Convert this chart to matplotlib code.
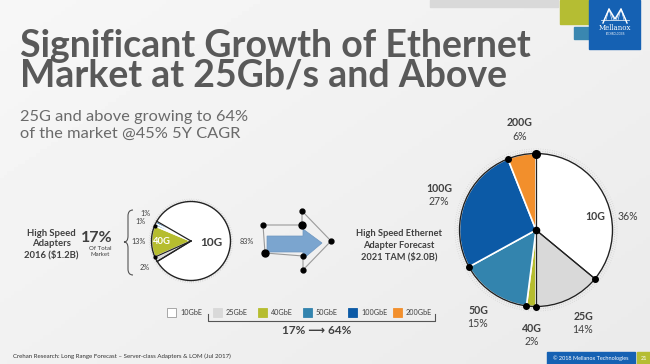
import numpy as np
import matplotlib
matplotlib.use('Agg')
import matplotlib.pyplot as plt
from matplotlib.patches import Rectangle, Polygon, Circle, PathPatch
from matplotlib.path import Path

W, H = 650, 364

# ---------------- data ----------------
categories_2016 = ['10G', '25G', '40G', '50G', '100G']
share_2016 = [83, 2, 13, 1, 1]
categories_2021 = ['10G', '25G', '40G', '50G', '100G', '200G']
share_2021 = [36, 14, 2, 15, 27, 6]
legend_labels = ['10GbE', '25GbE', '40GbE', '50GbE', '100GbE', '200GbE']
share_25g_plus = [17, 64]
tam_2016 = 1.2
tam_2021 = 2.0

# ---------------- styles ----------------
colors = {'10G': '#ffffff', '25G': '#d9d9d9', '40G': '#b6bd2f',
          '50G': '#3384ae', '100G': '#0c5aa6', '200G': '#f28f2c'}
DARK = '#404040'
FONT = 'Lato'

fig = plt.figure(figsize=(6.5, 3.64), dpi=100)

# background axes
ax_bg = fig.add_axes([0, 0, 1, 1])
ax_bg.set_xlim(0, W)
ax_bg.set_ylim(H, 0)
ax_bg.axis('off')
yy, xx = np.mgrid[0:1:100j, 0:1:180j]
g = 0.968 - 0.05 * (0.55 * xx + 0.45 * yy)
ax_bg.imshow(g, cmap='gray', vmin=0, vmax=1, extent=(0, W, H, 0), aspect='auto', zorder=0)

# decorations top right
ax_bg.add_patch(Rectangle((430, 0), 128, 7, color='#d9d9d9', zorder=1))
ax_bg.add_patch(Rectangle((560, 0), 29, 24, color='#b5bd33', zorder=1))
ax_bg.add_patch(Rectangle((574, 27), 15, 12, color='#3a87b0', zorder=1))
ax_bg.add_patch(Rectangle((589, 0), 51, 49, color='#1561b3', zorder=1))
# logo icon
ax_bg.plot([603, 609, 615, 621, 627], [23, 9, 19, 9, 23], color='white', lw=1.0, zorder=2)
for x0 in (609, 621):
    for dx in (-5, -3, 3, 5):
        ax_bg.plot([x0, x0 + dx], [9, 20], color='white', lw=0.4, zorder=2)
ax_bg.plot([601, 629], [20, 20], color='white', lw=0.5, zorder=2)
ax_bg.text(615, 28.5, 'Mellanox', color='white', fontsize=5, family='DejaVu Serif',
           ha='center', va='center', zorder=2)
ax_bg.text(615, 34, 'TECHNOLOGIES', color='white', fontsize=1.8, family='DejaVu Sans',
           ha='center', va='center', zorder=2)
# bottom right
ax_bg.add_patch(Rectangle((547, 352), 88, 12, color='#1561b3', zorder=1))
ax_bg.add_patch(Rectangle((637, 352), 13, 12, color='#b5bd33', zorder=1))


def pie_axes(cx, cy, r, pad=1.2):
    s = r * pad
    ax = fig.add_axes([(cx - s) / W, 1 - (cy + s) / H, 2 * s / W, 2 * s / H])
    ax.set_zorder(2)
    return ax, pad


def draw_pie(ax, pad, values, cats, start):
    wedges, _ = ax.pie(values, colors=[colors[c] for c in cats], startangle=start,
                       counterclock=False, radius=1,
                       wedgeprops=dict(edgecolor='white', linewidth=1.2))
    ax.set_xlim(-pad, pad)
    ax.set_ylim(-pad, pad)
    ax.axis('off')
    for rr, a in ((1.03, 0.45), (1.06, 0.25)):
        ax.add_patch(Circle((0, 0), rr, fill=False, ec='#7a7a7a', lw=0.7,
                            ls=(0, (0.6, 1.8)), alpha=a))
    ax.add_patch(Circle((0, 0), 1.0, fill=False, ec='#222222', lw=1.0, zorder=5))
    # black radial lines on boundaries of first two wedges
    for w in wedges[:2]:
        for th in (w.theta1, w.theta2):
            t = np.deg2rad(th)
            ax.plot([0, np.cos(t)], [0, np.sin(t)], color='#222222', lw=0.9, zorder=6)
    return wedges


# right pie (2021)
ax_r, pad_r = pie_axes(536, 230, 76.5)
wr = draw_pie(ax_r, pad_r, share_2021, categories_2021, 90)
bounds = sorted({round(w.theta1, 3) for w in wr} | {round(w.theta2, 3) for w in wr})
for th in bounds:
    t = np.deg2rad(th)
    big = abs(th - 90) < 1 or abs(th - 262.8) < 1
    ax_r.plot(np.cos(t), np.sin(t), 'o', color='black', ms=5.5 if big else 4, zorder=7)
ax_r.plot(0, 0, 'o', color='black', ms=4.5, zorder=7)

# left pie (2016)
ax_l, pad_l = pie_axes(191, 241, 39.5)
wl = draw_pie(ax_l, pad_l, share_2016, categories_2016, 150)
for w in wl[1:3]:
    t = np.deg2rad(w.theta1)
    ax_l.plot(np.cos(t), np.sin(t), 'o', color='black', ms=2, zorder=7)

# ---------------- top overlay ----------------
ax = fig.add_axes([0, 0, 1, 1])
ax.set_zorder(5)
ax.set_xlim(0, W)
ax.set_ylim(H, 0)
ax.axis('off')
ax.patch.set_visible(False)

# title as one two-line text (anchor = baseline of last line), baseline gap ~30 px
title = ax.text(20, 86.7, 'Significant Growth of Ethernet\nMarket at 25Gb/s and Above',
                fontsize=27, fontweight='bold', family=FONT, color='#595959',
                va='baseline', linespacing=1.0)
renderer = fig.canvas.get_renderer()


def baseline_gap(ls):
    title.set_linespacing(ls)
    _, info, _ = title._get_layout(renderer)
    return abs(info[0][3] - info[1][3])


try:
    g0, g1 = baseline_gap(0.0), baseline_gap(1.0)
    ls = (30.0 - g0) / (g1 - g0) if g1 != g0 else 0.85
    title.set_linespacing(max(0.5, ls))
except Exception:
    title.set_linespacing(0.85)

ax.text(20, 120.7, f'25G and above growing to {share_25g_plus[1]}%', fontsize=11.8,
        family=FONT, color='#6a6a6a', va='baseline')
ax.text(20, 137.5, 'of the market @45% 5Y CAGR', fontsize=11.8,
        family=FONT, color='#6a6a6a', va='baseline')

# left block
for txt, y in zip(['High Speed', 'Adapters', f'2016 (${tam_2016:.1f}B)'], [233, 244, 255]):
    ax.text(51, y, txt, fontsize=6.8, fontweight='bold', family=FONT, color=DARK,
            ha='center', va='center')
ax.text(97, 237.5, f'{share_25g_plus[0]}%', fontsize=11.5, fontweight='bold', family=FONT,
        color=DARK, ha='center', va='center')
ax.text(100, 248, 'Of Total', fontsize=4.4, family=FONT, color=DARK, ha='center', va='center')
ax.text(100, 254, 'Market', fontsize=4.4, family=FONT, color=DARK, ha='center', va='center')

# brace
verts = [(133, 210), (128, 210), (128, 216), (128, 236), (128, 242), (124, 242),
         (128, 242), (128, 248), (128, 269), (128, 275), (133, 275)]
codes = [Path.MOVETO, Path.CURVE3, Path.CURVE3, Path.LINETO, Path.CURVE3, Path.CURVE3,
         Path.CURVE3, Path.CURVE3, Path.LINETO, Path.CURVE3, Path.CURVE3]
ax.add_patch(PathPatch(Path(verts, codes), fill=False, ec='#555555', lw=0.8))

# left pie labels
left_pos = {'100G': (145, 213), '50G': (140, 222), '40G': (139, 242), '25G': (145, 268)}
for c, v in zip(categories_2016, share_2016):
    if c in left_pos:
        x, y = left_pos[c]
        ax.text(x, y, f'{v}%', fontsize=5.2, family=FONT, color=DARK, ha='center', va='center')
ax.text(162, 242, '40G', fontsize=6.8, fontweight='bold', family=FONT, color='white',
        ha='center', va='center')
ax.text(211, 242, categories_2016[0], fontsize=8.5, fontweight='bold', family=FONT, color=DARK,
        ha='center', va='center')
ax.text(247, 242, f'{share_2016[0]}%', fontsize=5.2, family=FONT, color=DARK,
        ha='center', va='center')

# arrow with selection outline
ax.add_patch(Polygon([(267, 236), (303, 236), (303, 229), (322, 243), (303, 259),
                      (303, 252), (267, 252)], closed=True, fc='#7ba5cf', ec='#6d96c0', lw=0.5))
ol = [(263, 225), (302, 225), (302, 211), (331, 241), (303, 270), (303, 256), (265, 253), (263, 225)]
ax.plot([p[0] for p in ol], [p[1] for p in ol], color='#9a9a9a', lw=0.8)
for p in ol[:-1]:
    big = p in [(302, 225), (265, 253)]
    ax.plot(p[0], p[1], 'o', color='black', ms=5 if big else 3.5)

# right block text
for txt, y in zip(['High Speed Ethernet', 'Adapter Forecast', f'2021 TAM (${tam_2021:.1f}B)'],
                  [233, 245, 257]):
    ax.text(399, y, txt, fontsize=6.7, fontweight='bold', family=FONT, color=DARK,
            ha='center', va='center')

# right pie labels
right_pos = {'25G': (583, 316), '40G': (532, 328), '50G': (478, 310),
             '100G': (439, 188), '200G': (520, 123)}
for c, v in zip(categories_2021, share_2021):
    if c == '10G':
        ax.text(595, 217, c, fontsize=7.6, fontweight='bold', family=FONT, color=DARK,
                ha='center', va='center')
        ax.text(628, 217, f'{v}%', fontsize=7.6, family=FONT, color=DARK,
                ha='center', va='center')
    else:
        x, y = right_pos[c]
        ax.text(x, y, c, fontsize=7.6, fontweight='bold', family=FONT, color=DARK,
                ha='center', va='center')
        ax.text(x, y + 13.5, f'{v}%', fontsize=7.6, family=FONT, color=DARK,
                ha='center', va='center')

# legend
leg_x = [167, 213, 258, 303, 348, 393]
for lab, c, x in zip(legend_labels, categories_2021, leg_x):
    ax.add_patch(Rectangle((x, 308), 8.5, 9, fc=colors[c],
                           ec='#9a9a9a' if c == '10G' else colors[c], lw=0.6))
    ax.text(x + 13, 312.8, lab, fontsize=5.2, family=FONT, color=DARK, va='center')
ax.plot([208, 208, 435, 435], [314, 321, 321, 314], color='#555555', lw=0.8)
ax.text(317, 331, f'{share_25g_plus[0]}% \u27f6 {share_25g_plus[1]}%', fontsize=8.5,
        fontweight='bold', family=[FONT, 'DejaVu Sans'], color=DARK, ha='center', va='center')

# footnote & footer
ax.text(13, 356, 'Crehan Research: Long Range Forecast \u2013 Server-class Adapters & LOM (Jul 2017)',
        fontsize=4.4, family=FONT, color='#333333', va='center')
ax.text(591, 358, '\u00a9 2018 Mellanox Technologies', fontsize=4.0, family=FONT,
        color='white', ha='center', va='center')
ax.text(643.5, 358, '21', fontsize=4.0, family=FONT, color='white', ha='center', va='center')

fig.savefig('out.png', dpi=100)
